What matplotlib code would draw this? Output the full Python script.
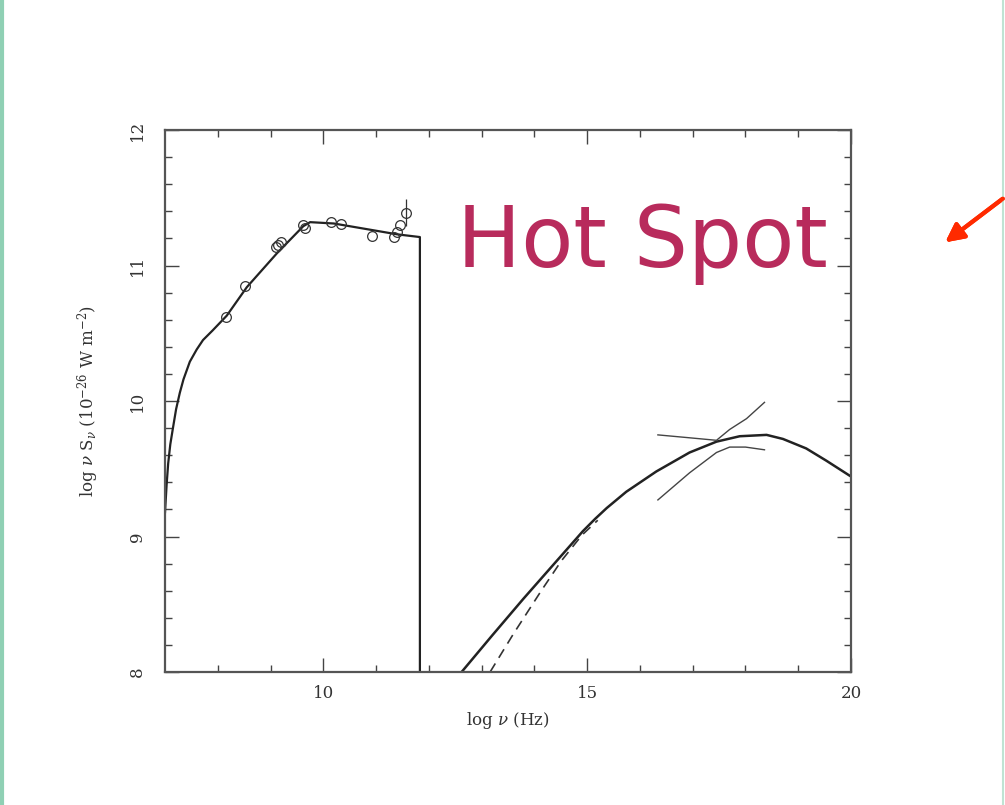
import numpy as np
import matplotlib
matplotlib.use("Agg")
import matplotlib.pyplot as plt
from matplotlib.lines import Line2D

plt.rcParams['font.family'] = ['DejaVu Serif']
plt.rcParams['mathtext.fontset'] = 'dejavuserif'

# radio-to-mm synchrotron model curve
radio_x = [7.0, 7.03, 7.06, 7.1, 7.15, 7.21, 7.28, 7.35, 7.47, 7.6, 7.72, 7.9, 8.17, 8.55,
           9.12, 9.62, 9.75, 10.2, 10.8, 11.4, 11.83, 11.83]
radio_y = [9.18, 9.38, 9.54, 9.68, 9.80, 9.94, 10.06, 10.16, 10.29, 10.38, 10.45, 10.52, 10.63, 10.84,
           11.09, 11.29, 11.32, 11.31, 11.27, 11.23, 11.21, 8.0]

# observed points
obs_x = [8.16, 8.52, 9.10, 9.14, 9.20, 9.62, 9.66, 10.14, 10.34, 10.92, 11.34, 11.40, 11.46, 11.56]
obs_y = [10.62, 10.85, 11.14, 11.15, 11.17, 11.30, 11.28, 11.32, 11.31, 11.22, 11.21, 11.25, 11.30, 11.39]
obs_err = [0, 0, 0, 0, 0, 0, 0, 0, 0, 0, 0, 0, 0, 0.1]

# optical / X-ray inverse Compton curve
ic_x = [12.62, 13.2, 13.79, 14.4, 14.92, 15.15, 15.37, 15.74, 16.31, 16.94, 17.45, 17.89,
        18.40, 18.71, 19.15, 19.53, 19.97]
ic_y = [8.0, 8.27, 8.54, 8.81, 9.04, 9.13, 9.21, 9.33, 9.48, 9.62, 9.70, 9.74,
        9.75, 9.72, 9.65, 9.56, 9.45]

# dashed variant
dash_x = [13.16, 13.6, 14.13, 14.51, 14.9, 15.2]
dash_y = [8.0, 8.28, 8.60, 8.82, 9.01, 9.12]

# X-ray bow ties
bowA_x = [16.34, 16.9, 17.45, 17.70, 18.02, 18.36]
bowA_y = [9.75, 9.73, 9.71, 9.79, 9.87, 9.99]
bowB_x = [16.34, 16.94, 17.45, 17.70, 18.0, 18.36]
bowB_y = [9.27, 9.47, 9.62, 9.66, 9.66, 9.64]

fig = plt.figure(figsize=(10.05, 8.05), dpi=100)
ax = fig.add_axes([0.1642, 0.1652, 0.6826, 0.6733])

ax.plot(radio_x, radio_y, color='#222222', lw=1.6)
ax.errorbar(obs_x, obs_y, yerr=obs_err, fmt='o', mfc='none', mec='#333333',
            ms=7, mew=0.9, ecolor='#333333', elinewidth=0.9, capsize=0)
ax.plot(ic_x, ic_y, color='#222222', lw=1.8)
ax.plot(dash_x, dash_y, color='#333333', lw=1.2, ls=(0, (6, 4)))
ax.plot(bowA_x, bowA_y, color='#444444', lw=1.0)
ax.plot(bowB_x, bowB_y, color='#444444', lw=1.0)

ax.set_xlim(7, 20)
ax.set_ylim(8, 12)
ax.set_xticks([10, 15, 20])
ax.set_xticks(np.arange(8, 20), minor=True)
ax.set_yticks([8, 9, 10, 11, 12])
ax.set_yticks(np.arange(8, 12.01, 0.2), minor=True)
ax.tick_params(which='both', direction='in', top=True, right=True, color='#444444',
               labelsize=12, labelcolor='#333333')
ax.tick_params(which='major', length=10, width=1.0)
ax.tick_params(which='minor', length=5, width=1.0)
ax.tick_params(axis='x', pad=9)
ax.tick_params(axis='y', pad=14)
for lab in ax.get_yticklabels():
    lab.set_rotation(90)
    lab.set_va('center')
for s in ax.spines.values():
    s.set_color('#555555')
    s.set_linewidth(1.6)

ax.set_xlabel(r'log $\nu$ (Hz)', fontsize=12, color='#333333', labelpad=6)
ax.set_ylabel(r'log $\nu$ S$_\nu$ (10$^{-26}$ W m$^{-2}$)', fontsize=12,
              color='#333333', labelpad=20)

fig.text(0.455, 0.668, 'Hot Spot', color='#b82b5c', fontsize=61.5,
         family='DejaVu Sans', ha='left', va='baseline')

# slide decorations
fig.add_artist(Line2D([0.002, 0.002], [0, 1], color='#8fd0b4', lw=3))
fig.add_artist(Line2D([0.998, 0.998], [0, 1], color='#bfe3d3', lw=1.5))
fig.add_artist(plt.annotate('', xy=(943 / 1005, 1 - 244 / 805), xytext=(1.0, 1 - 197 / 805),
                            xycoords='figure fraction', textcoords='figure fraction',
                            arrowprops=dict(arrowstyle='-|>,head_length=1.1,head_width=0.55',
                                            color='#ff2a00', lw=3)))

fig.savefig('out.png', dpi=100, facecolor='white')
